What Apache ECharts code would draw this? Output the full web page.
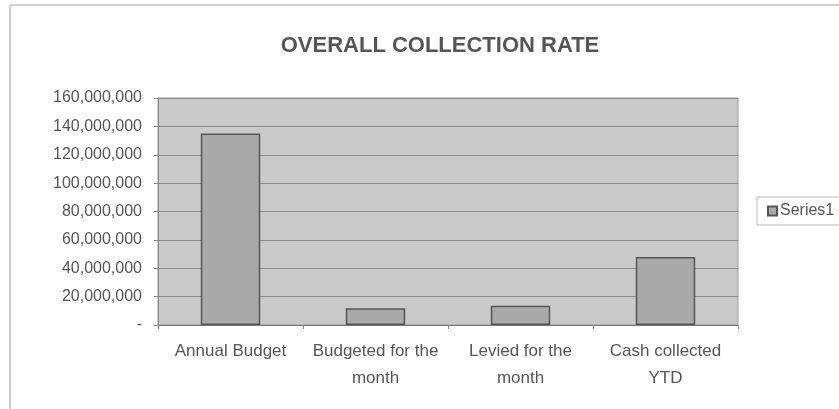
<!DOCTYPE html>
<html><head><meta charset="utf-8">
<script src="https://cdn.jsdelivr.net/npm/echarts@6/dist/echarts.min.js"></script>
<style>html,body{margin:0;padding:0;background:#fff}#c{width:839px;height:409px}</style>
</head><body><div id="c"></div>
<script>
const categories = ['Annual Budget', 'Budgeted for the\nmonth', 'Levied for the\nmonth', 'Cash collected\nYTD'];
const seriesName = 'Series1';
const values = [135000000, 11800000, 13500000, 48000000];
const yTicks = [0, 20000000, 40000000, 60000000, 80000000, 100000000, 120000000, 140000000, 160000000];

const chart = echarts.init(document.getElementById('c'), null, {renderer: 'canvas'});
const fmt = v => v === 0 ? '-' : v.toLocaleString('en-US');
chart.setOption({
  animation: false,
  backgroundColor: '#fff',
  graphic: [
    {type: 'line', shape: {x1: 10, y1: 5, x2: 839, y2: 5}, style: {stroke: '#cfcfcf', lineWidth: 2}},
    {type: 'line', shape: {x1: 10, y1: 5, x2: 10, y2: 409}, style: {stroke: '#cfcfcf', lineWidth: 2}}
  ],
  title: {
    text: 'OVERALL COLLECTION RATE', left: 435, top: 30, textAlign: 'center',
    textStyle: {fontFamily: 'Liberation Sans', fontSize: 22, fontWeight: 'bold', color: '#555'}
  },
  legend: {
    data: [seriesName], left: 757, top: 197, orient: 'vertical',
    itemWidth: 9, itemHeight: 9, itemGap: 4,
    padding: [6, 12, 6, 10], borderColor: '#bbb', borderWidth: 1,
    textStyle: {fontFamily: 'Liberation Sans', fontSize: 16, color: '#555', padding: [0, 0, 0, -2]},
    icon: 'rect'
  },
  grid: {left: 158, right: 101, top: 98, bottom: 84, show: true, backgroundColor: '#c9c9c9', borderColor: '#9a9a9a', borderWidth: 1},
  xAxis: {
    type: 'category', data: categories,
    axisLine: {lineStyle: {color: '#777', width: 1}},
    axisTick: {show: true, length: 4, lineStyle: {color: '#888'}},
    axisLabel: {fontFamily: 'Liberation Sans', fontSize: 17, color: '#555', lineHeight: 27, margin: 13, interval: 0}
  },
  yAxis: {
    type: 'value', min: 0, max: 160000000, interval: 20000000,
    axisLine: {show: true, lineStyle: {color: '#888'}},
    axisTick: {show: true, length: 4, lineStyle: {color: '#888'}},
    splitLine: {lineStyle: {color: '#8a8a8a', width: 1}},
    axisLabel: {formatter: fmt, fontFamily: 'Liberation Sans', fontSize: 16, color: '#555', margin: 16}
  },
  series: [{
    name: seriesName, type: 'bar', data: values, barWidth: '41%',
    itemStyle: {color: '#a9a9a9', borderColor: '#555', borderWidth: 1.5}
  }]
});
</script></body></html>
